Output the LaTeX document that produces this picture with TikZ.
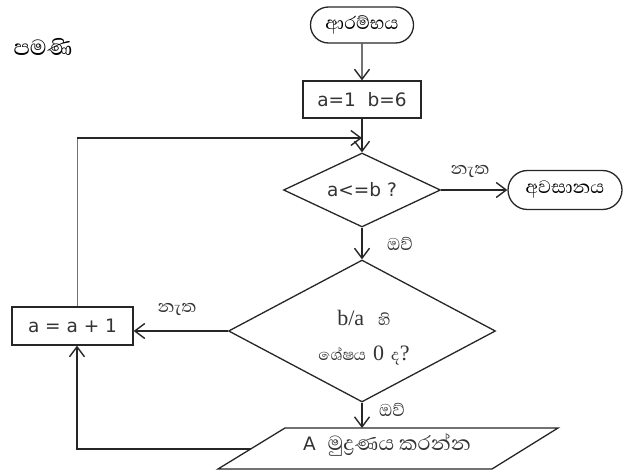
\documentclass[tikz,border=0pt]{standalone}
\usepackage{fontspec}
\setmainfont{DejaVu Sans}
\newfontfamily\sinf[Script=Sinhala]{Abhaya Libre}
\newfontfamily\serifp{Liberation Serif}
\usetikzlibrary{shapes.geometric,shapes.misc,arrows.meta}
\begin{document}
\begin{tikzpicture}[x=1pt,y=-1pt,
  line/.style={line width=1.3pt, draw=black!85},
  arr/.style={line, -{Straight Barb[length=10pt,width=15pt,line width=1.4pt]}},
  term/.style={rounded rectangle, draw=black!85, line width=1.3pt, inner sep=0pt},
  proc/.style={rectangle, draw=black!85, line width=1.3pt, inner sep=0pt},
  dec/.style={diamond, draw=black!85, line width=1.3pt, inner sep=0pt, aspect=2},
  lbl/.style={font=\sinf\fontsize{22}{24}\selectfont, inner sep=0pt, text=black!80},
  txt/.style={font=\fontsize{18.5}{22}\selectfont, text=black!80}
]
\useasboundingbox (0,0) rectangle (624,470);
\node[inner sep=0pt, font=\sinf\fontsize{28}{30}\selectfont] (title) at (43,47) {පමණි};
\node[term, minimum width=103pt, minimum height=36pt, font=\sinf\fontsize{23}{24}\selectfont] (start) at (362,25) {ආරම්භය};
\node[proc, minimum width=118pt, minimum height=37pt, txt] (init) at (362,99.5) {a=1\ \ b=6};
\node[dec, minimum width=157pt, minimum height=74pt, txt] (d1) at (362,190) {a<=b ?};
\node[term, minimum width=114pt, minimum height=39pt, font=\sinf\fontsize{23}{24}\selectfont] (endt) at (565,190) {අවසානය};
\node[dec, minimum width=267pt, minimum height=142pt] (d2) at (362,331) {};
\node[inner sep=0pt, align=center, font=\fontsize{22}{35}\selectfont, text=black!80] (d2t) at (364,338)
  {{\serifp b/a}\ \ {\sinf\fontsize{20}{22}\selectfont හි}\\{\sinf\fontsize{20}{22}\selectfont ශේෂය}\ {\serifp 0}\ {\sinf\fontsize{20}{22}\selectfont ද}{\serifp ?}};
\node[proc, minimum width=121pt, minimum height=38pt, txt] (inc) at (72.5,326) {a = a + 1};
\coordinate (pa) at (285,428);
\coordinate (pb) at (558,428);
\coordinate (pc) at (492,469);
\coordinate (pd) at (218,469);
\coordinate (pin) at (362,428);
\coordinate (pl) at (250.7,449);
\coordinate (j) at (362,138);
\draw[line] (pa) -- (pb) -- (pc) -- (pd) -- cycle;
\node[inner sep=0pt, font=\fontsize{18.5}{22}\selectfont, text=black!80] (ptext) at (387,445) {A\ \ {\sinf\fontsize{26}{28}\selectfont මුද්^^^^200dරණය කරන්න}};
\node[lbl] (no1) at (470,171) {නැත};
\node[lbl] (yes1) at (400,244) {ඔව්};
\node[lbl] (no2) at (177,309) {නැත};
\node[lbl] (yes2) at (392,410) {ඔව්};
\draw[arr] (start) -- (init);
\draw[arr] (init) -- (d1);
\draw[line, draw=black!55, line width=0.9pt] ([xshift=4.5pt]inc.north) -- ([xshift=4.5pt]inc.north |- j);
\draw[arr] ([xshift=4.5pt]inc.north |- j) -- (j);
\draw[arr] (d1.east) -- (d1.east -| endt.west);
\draw[arr] (d1) -- (d2);
\draw[arr] (d2.west) -- (d2.west -| inc.east);
\draw[arr] (d2) -- (pin);
\draw[arr] (pl) -| ([xshift=4.5pt]inc.south);
\end{tikzpicture}
\end{document}
